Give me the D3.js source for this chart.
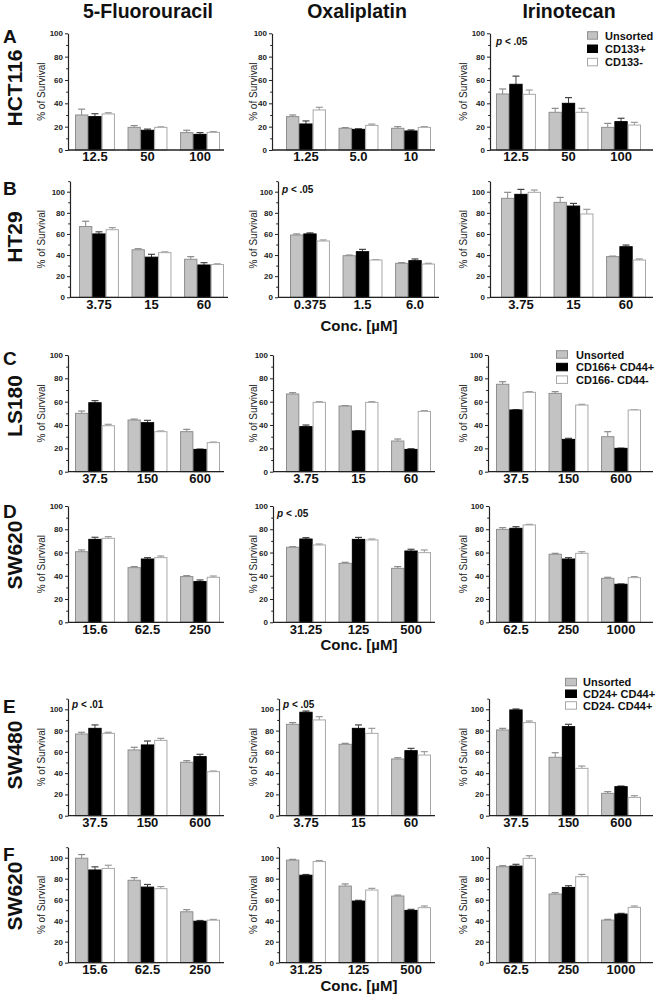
<!DOCTYPE html>
<html><head><meta charset="utf-8">
<script src="https://cdn.jsdelivr.net/npm/d3@7"></script>
<style>
html,body{margin:0;padding:0;background:#fff;}
svg{display:block;font-family:"Liberation Sans",Arial,Helvetica,sans-serif;}
</style></head>
<body><svg id="c" width="656" height="999"></svg>
<script>
// ---------------- DATA ----------------
const drugs = ["5-Fluorouracil", "Oxaliplatin", "Irinotecan"];
const rowLetters = ["A", "B", "C", "D", "E", "F"];
const cellLines = ["HCT116", "HT29", "LS180", "SW620", "SW480", "SW620"];
const series = ["Unsorted", "Positive", "Negative"];

// concentration tick labels, per row (3 panels each)
const concLabels = [
  [["12.5","50","100"], ["1.25","5.0","10"], ["12.5","50","100"]],
  [["3.75","15","60"], ["0.375","1.5","6.0"], ["3.75","15","60"]],
  [["37.5","150","600"], ["3.75","15","60"], ["37.5","150","600"]],
  [["15.6","62.5","250"], ["31.25","125","500"], ["62.5","250","1000"]],
  [["37.5","150","600"], ["3.75","15","60"], ["37.5","150","600"]],
  [["15.6","62.5","250"], ["31.25","125","500"], ["62.5","250","1000"]]
];

// % of survival, per row, per panel
const unsorted = [
  [[30,19.4,14.9], [28.6,18.6,18.6], [48,32.3,19.4]],
  [[67,45,36], [59,39.4,32.2], [93.7,89.9,38.5]],
  [[50,44.3,34.3], [66.6,56.3,26.3], [74.9,67.1,30]],
  [[60.7,47,39.3], [64.5,50.7,46.4], [79.9,58.5,37.8]],
  [[76.8,61.8,50.2], [85.9,67.1,53.3], [80.6,54.9,21]],
  [[99.5,78.5,48.5], [97.7,73,63.5], [91.4,65.4,40.6]]
];
const positive = [
  [[28.6,16.9,13.4], [22.3,17.7,16.3], [56.3,40,24.3]],
  [[60,38,30.6], [60,43.2,34.7], [97.5,86.4,47.9]],
  [[59.1,42,19.1], [38.6,34.9,19.1], [52.9,27.7,20]],
  [[71.3,54.4,35], [71.6,71.3,61.3], [80.8,54.4,32.7]],
  [[82.1,66.5,55.5], [97.2,82.1,61.1], [99.4,83.7,27.3]],
  [[88.3,72,39.5], [83.3,58.7,49.8], [92,71.7,46.3]]
];
const negative = [
  [[30.9,19.4,15.1], [34.3,21.1,19.4], [47.7,32.3,21.4]],
  [[64,42.3,31], [53.3,35.3,31.5], [99.4,78.9,35.3]],
  [[39.4,34.3,24.9], [59.4,59.4,51.7], [68,57.1,52.9]],
  [[72.2,55.6,38.7], [66.5,70.8,59.9], [83.7,59.3,38.4]],
  [[77.4,70.8,41.4], [90,77.4,57], [87.5,44.5,17.2]],
  [[89.8,70.5,40.5], [96.3,69.2,52.4], [99.4,81.9,52.7]]
];
// error (SEM, upward only)
const unsortedErr = [
  [[5,1.5,2], [1.4,0.6,1.4], [4.3,3.4,3.4]],
  [[5,1,2.5], [1,0.6,0.6], [5.7,4.7,0.5]],
  [[2,0.8,2], [1.1,0.3,1.7], [2.2,1.5,4.3]],
  [[1.5,0.9,0.8], [0.5,0.9,1.5], [1.5,0.8,0.9]],
  [[1.6,2.5,1.5], [1.6,0.9,1.2], [1.5,4.3,1.6]],
  [[3.5,2.5,2], [0.7,2,0.9], [1,1.3,0.7]]
];
const positiveErr = [
  [[2.5,1,1.5], [2.6,0.5,0.9], [7,4.9,2.9]],
  [[2,2.7,2.2], [1,2.2,1.6], [4.7,2.5,1.6]],
  [[1.8,2,0.3], [1.4,0.2,0.6], [0.2,0.9,0.2]],
  [[1.8,1.2,1.4], [1.2,1.7,1.5], [1.4,1.2,0.3]],
  [[3.2,3.7,2.2], [1.2,3.2,2.2], [0.9,2.2,0.6]],
  [[3,2.5,0.7], [0.7,0.7,1], [1.7,1.6,0.7]]
];
const negativeErr = [
  [[1,0.4,0.6], [2.3,1.1,0.6], [3.7,3.4,2.3]],
  [[2,0.7,0.7], [1,0.3,0.7], [2.2,4.4,1]],
  [[1.2,0.6,0.5], [0.6,0.6,0.6], [0.6,0.6,0.2]],
  [[1.4,1.4,1.1], [0.8,0.8,2.3], [0.5,1.4,0.9]],
  [[1,1.9,0.6], [3.1,4.7,3.2], [1.5,2.2,1.6]],
  [[3,2,0.7], [1,1.6,1.6], [2.5,2.2,1.3]]
];

const yTicks = [0, 20, 40, 60, 80, 100];
const legends = [
  {row: 0, labels: ["Unsorted", "CD133+", "CD133-"]},
  {row: 2, labels: ["Unsorted", "CD166+ CD44+", "CD166- CD44-"]},
  {row: 4, labels: ["Unsorted", "CD24+ CD44+", "CD24- CD44+"]}
];
const pNotes = [
  {row: 0, col: 2, text: ".05"},
  {row: 1, col: 1, text: ".05"},
  {row: 3, col: 1, text: ".05"},
  {row: 4, col: 0, text: ".01"},
  {row: 4, col: 1, text: ".05"}
];
const concTitle = "Conc. [\u00B5M]";
const yLabel = "% of Survival";

// ---------------- LAYOUT ----------------
const rowGeom = [
  {y0: 150,   y100: 33.3,  max: 100, axisX: [68, 272, 490], barX: [75, 286, 496], letterY: 43,  labelY: 88,  legY: 31.7, legStep: 13.3, pY: 45},
  {y0: 297.3, y100: 191.7, max: 110, axisX: [70, 278, 490], barX: [79, 290, 501], letterY: 195, labelY: 237, pY: 193},
  {y0: 471.7, y100: 355,   max: 100, axisX: [68, 273, 488], barX: [75, 286, 496], letterY: 365, labelY: 406, legY: 350.7, legStep: 12.6},
  {y0: 622.3, y100: 506,   max: 100, axisX: [68, 273, 489], barX: [75, 286, 496], letterY: 518, labelY: 555, pY: 517},
  {y0: 815.7, y100: 709.3, max: 110, axisX: [68, 279, 489], barX: [75, 286, 496], letterY: 713, labelY: 755, legY: 678.3, legStep: 11.7, pY: 708},
  {y0: 962.7, y100: 857.7, max: 110, axisX: [68, 279, 489], barX: [75, 286, 496], letterY: 861, labelY: 896}
];
const legendX = {0: [587, 11, 605], 2: [556, 12, 576], 4: [565, 12, 583]};
const yLabelX = [45, 257, 467];
const titleX = [148, 357, 569];
const groupSpan = 145;
const concTitleY = {1: 331, 3: 650, 5: 991};

const fills = {Unsorted: "#c3c3c3", Positive: "#000000", Negative: "#ffffff"};
const strokes = {Unsorted: "#8f8f8f", Positive: "#000000", Negative: "#a8a8a8"};
const errCol = {Unsorted: "#8a8a8a", Positive: "#444444", Negative: "#9a9a9a"};

const svg = d3.select("#c");
const F = '"Liberation Sans",Arial,Helvetica,sans-serif';

// column titles
drugs.forEach((d, i) => {
  svg.append("text").attr("x", titleX[i]).attr("y", 18).attr("text-anchor", "middle")
    .attr("font-size", 19.5).attr("font-weight", "bold").attr("fill", "#111").text(d);
});

const valueSets = {Unsorted: unsorted, Positive: positive, Negative: negative};
const errSets = {Unsorted: unsortedErr, Positive: positiveErr, Negative: negativeErr};

rowGeom.forEach((g, r) => {
  // row letter + cell line
  svg.append("text").attr("x", 3).attr("y", g.letterY).attr("font-size", 19)
    .attr("font-weight", "bold").attr("fill", "#111").text(rowLetters[r]);
  svg.append("text").attr("transform", `translate(22,${g.labelY}) rotate(-90)`)
    .attr("text-anchor", "middle").attr("font-size", 21).attr("font-weight", "bold")
    .attr("fill", "#111").text(cellLines[r]);

  const pxPerUnit = (g.y0 - g.y100) / 100;
  const y = d3.scaleLinear().domain([0, g.max]).range([g.y0, g.y0 - pxPerUnit * g.max]);

  for (let c = 0; c < 3; c++) {
    const gp = svg.append("g");
    const x = d3.scaleBand().domain(concLabels[r][c])
      .range([g.barX[c], g.barX[c] + groupSpan]).paddingInner(0.24).paddingOuter(0);
    const xs = d3.scaleBand().domain(series).range([0, x.bandwidth()]).padding(0);

    // bars
    concLabels[r][c].forEach((lab, k) => {
      series.forEach(s => {
        const v = valueSets[s][r][c][k];
        const e = errSets[s][r][c][k];
        const bx = x(lab) + xs(s);
        const cx = bx + xs.bandwidth() / 2;
        gp.append("line").attr("x1", cx).attr("x2", cx).attr("y1", y(v)).attr("y2", y(v + e))
          .attr("stroke", errCol[s]).attr("stroke-width", 1);
        gp.append("line").attr("x1", cx - 3.5).attr("x2", cx + 3.5).attr("y1", y(v + e)).attr("y2", y(v + e))
          .attr("stroke", errCol[s]).attr("stroke-width", 1.2);
        gp.append("rect").attr("x", bx + 0.5).attr("y", y(v)).attr("width", xs.bandwidth() - 1)
          .attr("height", y(0) - y(v)).attr("fill", fills[s]).attr("stroke", strokes[s]).attr("stroke-width", 1);
      });
    });

    // y axis
    const ya = gp.append("g").attr("transform", `translate(${g.axisX[c]},0)`)
      .call(d3.axisLeft(y).tickValues(yTicks).tickSize(3).tickSizeOuter(0).tickPadding(2));
    ya.select(".domain").attr("stroke", "#222").attr("stroke-width", 1.2);
    ya.selectAll(".tick line").attr("stroke", "#222");
    ya.selectAll(".tick text").attr("font-size", 8).attr("font-weight", "bold")
      .attr("font-family", F).attr("fill", "#222");
    const minors = d3.range(10, g.max + 1, 20);
    const ym = gp.append("g").attr("transform", `translate(${g.axisX[c]},0)`)
      .call(d3.axisLeft(y).tickValues(minors).tickSize(1.8).tickFormat(""));
    ym.select(".domain").remove();
    ym.selectAll(".tick line").attr("stroke", "#222");

    // x axis
    const xEnd = c === 2 ? 653 : g.barX[c] + groupSpan + 4;
    gp.append("line").attr("x1", g.axisX[c]).attr("x2", xEnd).attr("y1", g.y0).attr("y2", g.y0)
      .attr("stroke", "#222").attr("stroke-width", 1.3);
    const xa = gp.append("g").attr("transform", `translate(0,${g.y0})`)
      .call(d3.axisBottom(x).tickSize(0).tickPadding(2));
    xa.select(".domain").remove();
    xa.selectAll(".tick text").attr("font-size", 13).attr("font-weight", "bold")
      .attr("font-family", F).attr("fill", "#111").attr("dy", "0.71em");

    // y label
    const ymid = (y(0) + y(g.max)) / 2;
    gp.append("text").attr("transform", `translate(${yLabelX[c]},${ymid}) rotate(-90)`)
      .attr("text-anchor", "middle").attr("font-size", 10).attr("fill", "#222").text(yLabel);
  }

  if (concTitleY[r] !== undefined) {
    svg.append("text").attr("x", 359).attr("y", concTitleY[r]).attr("text-anchor", "middle")
      .attr("font-size", 15).attr("font-weight", "bold").attr("fill", "#111").text(concTitle);
  }
});

// p-value notes
pNotes.forEach(p => {
  const g = rowGeom[p.row];
  const t = svg.append("text").attr("x", g.axisX[p.col] + (p.col === 2 ? 6 : 4)).attr("y", g.pY)
    .attr("font-size", 10).attr("font-weight", "bold").attr("fill", "#111");
  t.append("tspan").attr("font-style", "italic").text("p");
  t.append("tspan").text(" < " + p.text);
});

// legends
legends.forEach(L => {
  const g = rowGeom[L.row];
  const [sx, sw, tx] = legendX[L.row];
  L.labels.forEach((lab, i) => {
    const s = series[i];
    const yy = g.legY + i * g.legStep;
    svg.append("rect").attr("x", sx + 0.5).attr("y", yy).attr("width", sw - 1).attr("height", 7.5)
      .attr("fill", fills[s]).attr("stroke", strokes[s]).attr("stroke-width", 1);
    svg.append("text").attr("x", tx).attr("y", yy + 8).attr("font-size", 11)
      .attr("font-weight", "bold").attr("fill", "#111").text(lab);
  });
});
</script></body></html>
